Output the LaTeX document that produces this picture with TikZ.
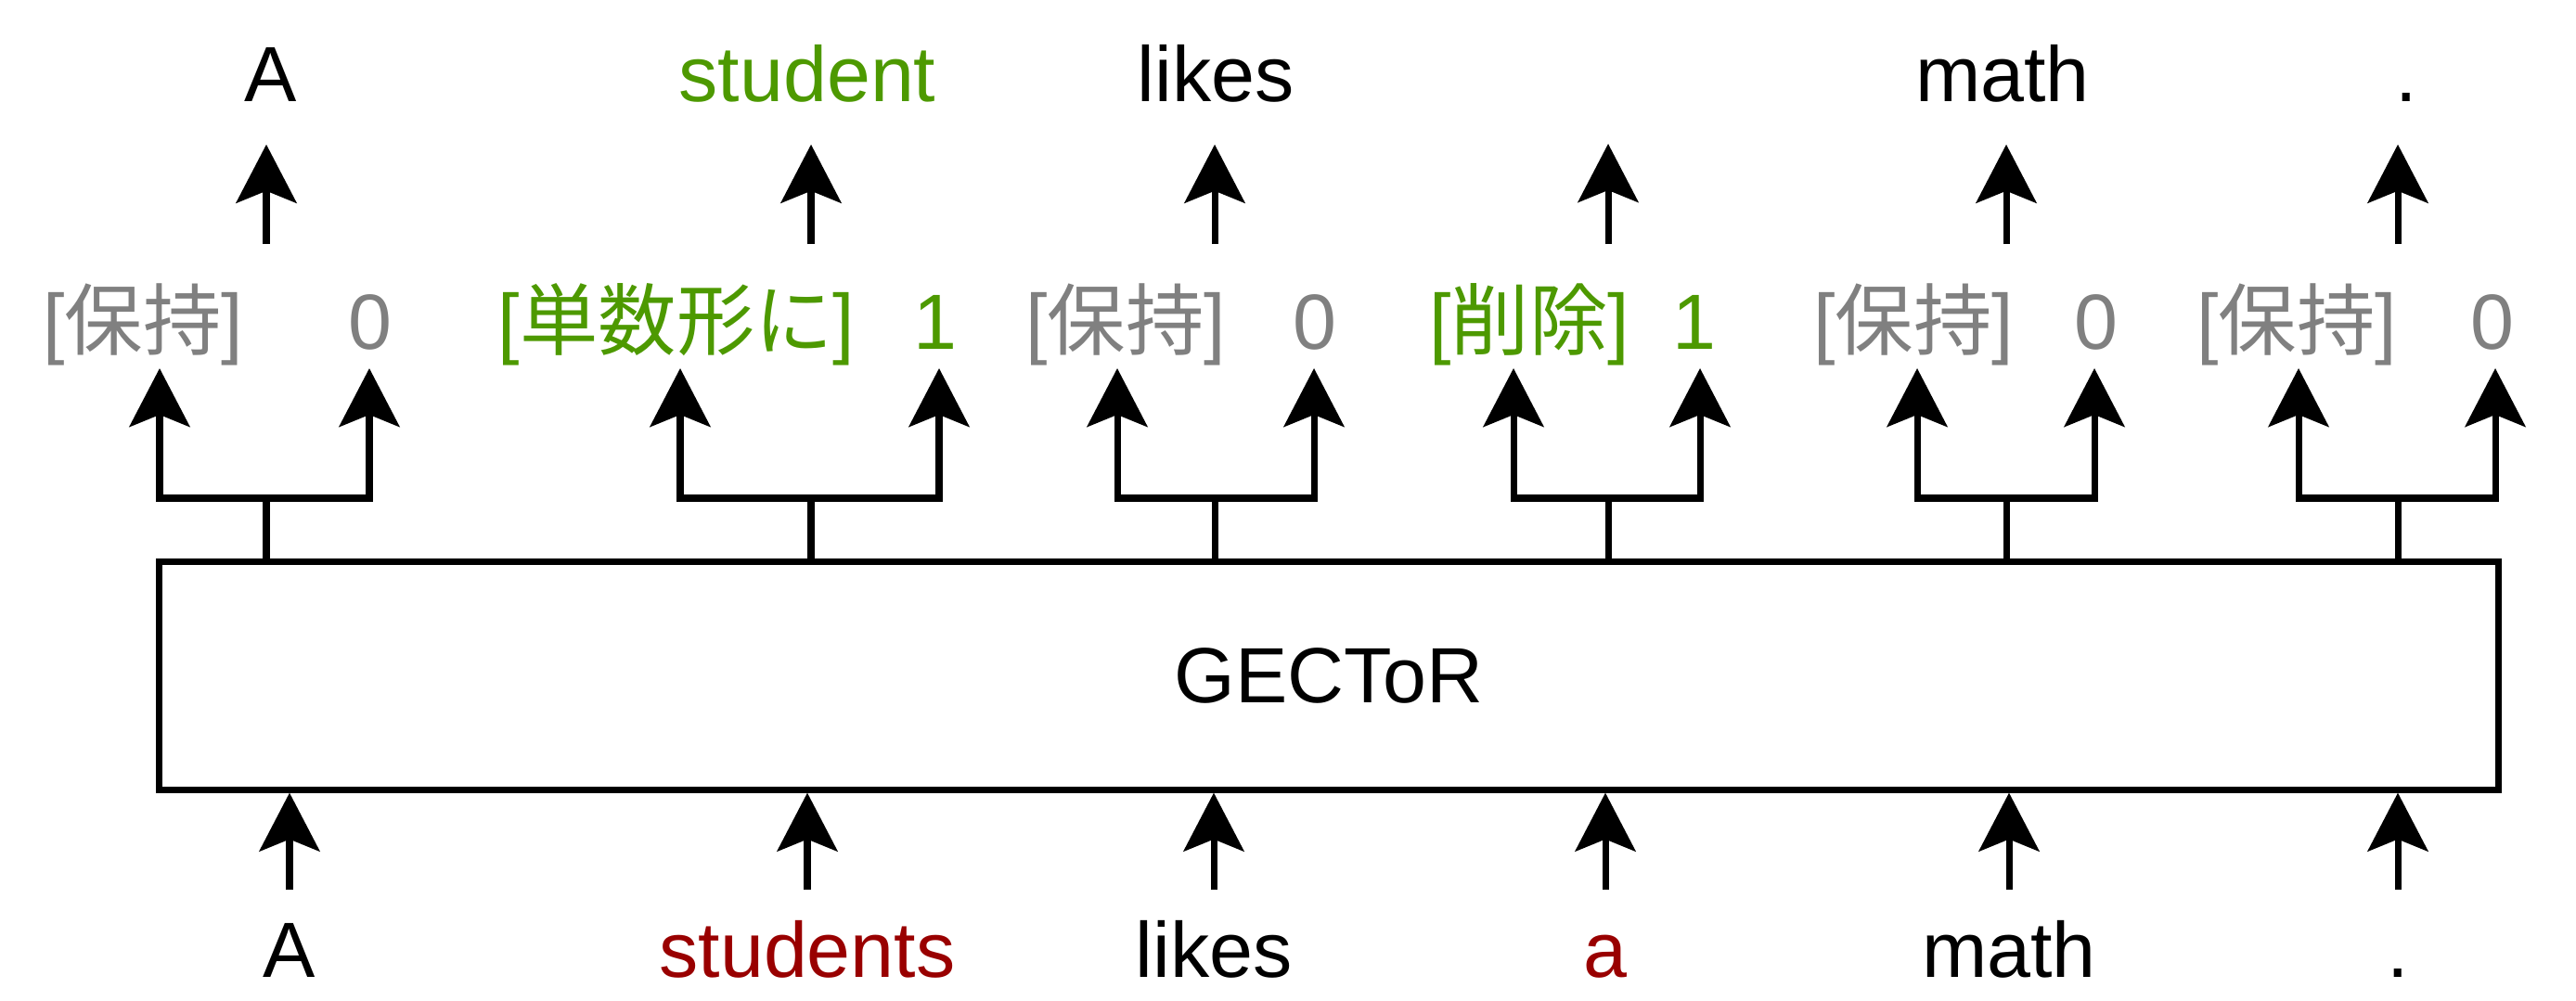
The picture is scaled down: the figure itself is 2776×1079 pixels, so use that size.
\documentclass[tikz,border=0pt]{standalone}
\usepackage{fontspec}
\setmainfont{Liberation Sans}
\newfontfamily\jpfont{Noto Sans CJK JP}
\usetikzlibrary{arrows.meta}
\definecolor{taggray}{HTML}{808080}
\definecolor{okgreen}{HTML}{4D9900}
\definecolor{errred}{HTML}{990000}
\begin{document}
\begin{tikzpicture}[x=0.01cm,y=-0.01cm,
  word/.style={anchor=base, inner sep=0pt, text height=0.62cm, text depth=0cm,
    font=\fontsize{24}{28}\selectfont},
  graytag/.style={word, text=taggray},
  greentag/.style={word, text=okgreen},
  conn/.style={line width=2pt, draw=black},
  arr/.style={conn, -{Stealth[length=0.63cm,width=0.65cm,inset=0.13cm]}},
  modelbox/.style={draw=black, line width=2pt, fill=white, inner sep=0pt,
    minimum width=25.2cm, minimum height=2.45cm, font=\fontsize{24}{28}\selectfont}]
\useasboundingbox (0,0) rectangle (2776,1079);

% model box
\node[modelbox] (gector) at (1432,728.5) {GECToR};

% output words
\node[word] (outA) at (292,110) {A};
\node[word, text=okgreen] (outStudent) at (870,110) {student};
\node[word] (outLikes) at (1310,110) {likes};
\node[word] (outMath) at (2158,110) {math};
\node[word] (outDot) at (2593,110) {.};
\coordinate (outDel) at (1733,155);

% tags and labels
\node[graytag] (tag1) at (154,376) {[{\jpfont 保持}]};
\node[graytag] (num1) at (399,376) {0};
\node[greentag] (tag2) at (729,376) {[{\jpfont 単数形に}]};
\node[greentag] (num2) at (1008,376) {1};
\node[graytag] (tag3) at (1213,376) {[{\jpfont 保持}]};
\node[graytag] (num3) at (1417,376) {0};
\node[greentag] (tag4) at (1648,376) {[{\jpfont 削除}]};
\node[greentag] (num4) at (1826,376) {1};
\node[graytag] (tag5) at (2062,376) {[{\jpfont 保持}]};
\node[graytag] (num5) at (2259,376) {0};
\node[graytag] (tag6) at (2475,376) {[{\jpfont 保持}]};
\node[graytag] (num6) at (2686,376) {0};

% input words
\node[word] (inA) at (312,1053) {A};
\node[word, text=errred] (inStudents) at (870,1053) {students};
\node[word] (inLikes) at (1308,1053) {likes};
\node[word, text=errred] (inArt) at (1730,1053) {a};
\node[word] (inMath) at (2165,1053) {math};
\node[word] (inDot) at (2584,1053) {.};

% fork coordinates
\coordinate (j1) at (287,537);  \coordinate (fl1) at (172,397);  \coordinate (fr1) at (398,397);
\coordinate (j2) at (874,537);  \coordinate (fl2) at (733,397);  \coordinate (fr2) at (1012,397);
\coordinate (j3) at (1309,537); \coordinate (fl3) at (1204,397); \coordinate (fr3) at (1416,397);
\coordinate (j4) at (1733,537); \coordinate (fl4) at (1631,397); \coordinate (fr4) at (1832,397);
\coordinate (j5) at (2162,537); \coordinate (fl5) at (2066,397); \coordinate (fr5) at (2257,397);
\coordinate (j6) at (2584,537); \coordinate (fl6) at (2477,397); \coordinate (fr6) at (2689,397);

% top arrow starts
\coordinate (s1) at (287,263);
\coordinate (s2) at (874,263);
\coordinate (s3) at (1309,263);
\coordinate (s4) at (1733,263);
\coordinate (s5) at (2162,263);
\coordinate (s6) at (2584,263);

% forks from the model to tags and labels
\foreach \i in {1,...,6}{
  \draw[conn] (gector.north -| j\i) -- (j\i);
  \draw[arr] (j\i) -| (fl\i);
  \draw[arr] (j\i) -| (fr\i);
}

% arrows from tags to output words
\draw[arr, shorten >=0.45cm] (s1) -- (s1 |- outA.south);
\draw[arr, shorten >=0.45cm] (s2) -- (s2 |- outStudent.south);
\draw[arr, shorten >=0.45cm] (s3) -- (s3 |- outLikes.south);
\draw[arr] (s4) -- (outDel);
\draw[arr, shorten >=0.45cm] (s5) -- (s5 |- outMath.south);
\draw[arr, shorten >=0.45cm] (s6) -- (s6 |- outDot.south);

% input arrows
\foreach \w in {inA,inStudents,inLikes,inArt,inMath,inDot}{
  \draw[arr, shorten <=0.31cm] (\w.north) -- (\w.north |- gector.south);
}
\end{tikzpicture}
\end{document}
